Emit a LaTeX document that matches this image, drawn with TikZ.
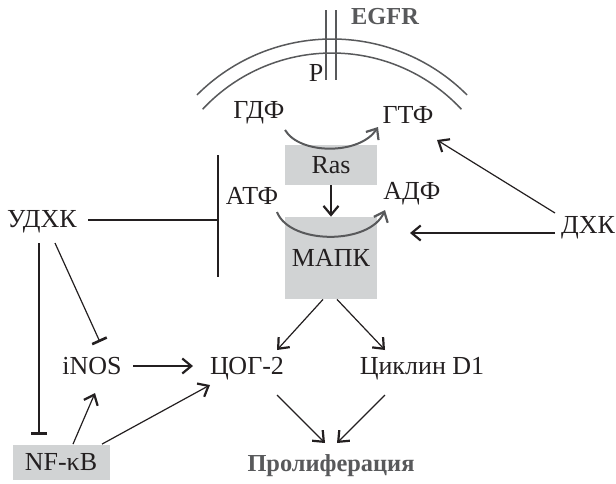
\documentclass[tikz,border=0pt]{standalone}
\usepackage{fontspec}
\setmainfont{Liberation Serif}
\usetikzlibrary{arrows.meta}
\definecolor{MKgrey}{RGB}{88,89,91}
\definecolor{MKbox}{RGB}{209,211,212}
\definecolor{MKink}{RGB}{35,31,32}

\begin{document}
\begin{tikzpicture}[
      x=0.5pt,y=-0.5pt,
      lbl/.style={inner sep=0pt,text=MKink,font=\fontsize{13}{15}\selectfont},
      head/.style={inner sep=0pt,text=MKgrey,font=\fontsize{12.2}{14}\selectfont\bfseries},
      box/.style={fill=MKbox,inner sep=0pt,text=MKink,font=\fontsize{13}{15}\selectfont},
      arr/.style={draw=MKink,line width=0.6pt,-{Straight Barb[length=4.5pt,width=7.5pt,line width=1.1pt]}},
      inh/.style={draw=MKink,line width=0.6pt,-{Bar[width=8pt,line width=1.3pt]}},
      curv/.style={draw=MKgrey,line width=1pt,-{Straight Barb[length=4.5pt,width=7.5pt,line width=1.1pt]}},
      memb/.style={draw=MKgrey,line width=0.75pt}
    ]
    \useasboundingbox (0,0) rectangle (616,483);
    % membrane and receptor
    \draw[memb] (332,230) ++(-135:191) arc[start angle=-135,end angle=-45,radius=191];
    \draw[memb] (332,230) ++(-137:177) arc[start angle=-137,end angle=-43,radius=177];
    \draw[memb] (326,10) -- (326,80);
    \draw[memb] (336,10) -- (336,80);
    \node[head] (egfr) at (385,17) {EGFR};
    \node[lbl] (p) at (316,73) {P};
    % cascade
    \node[lbl] (gdf) at (259,113) {ГДФ};
    \node[lbl] (gtf) at (408,115) {ГТФ};
    \node[box,minimum width=46pt,minimum height=20pt] (ras) at (331,165) {Ras};
    \node[lbl] (atf) at (252,196) {АТФ};
    \node[lbl] (adf) at (412,194) {АДФ};
    \node[box,minimum width=46pt,minimum height=41pt] (mapk) at (331,258) {МАПК};
    \node[lbl] (udhk) at (42,222) {УДХК};
    \node[lbl] (dxk) at (588,228) {ДХК};
    \node[lbl] (inos) at (92,366) {iNOS};
    \node[lbl] (cog) at (247,369) {ЦОГ-2};
    \node[lbl] (cyclin) at (422,369) {Циклин D1};
    \node[head] (prolif) at (331,466) {Пролиферация};
    \node[box,minimum width=48.5pt,minimum height=17.5pt] (nfkb) at (61,462) {NF-κB};
    \coordinate (bartop) at (218,155);
    \coordinate (barmid) at (218,220);
    \coordinate (barbot) at (218,277);
    \coordinate (dxkend) at (410,233);

    \draw[curv] ([xshift=13pt,yshift=-8.5pt]gdf.center) .. controls +(15,25) and +(-18,28) .. ([xshift=-15pt,yshift=-6pt]gtf.center);
    \draw[curv] ([xshift=12.5pt,yshift=-8pt]atf.center) .. controls +(13,33) and +(-15,35) .. ([xshift=-13.5pt,yshift=-8pt]adf.center);
    \draw[arr] (ras) -- (mapk);
    \draw[arr] ([xshift=-4pt]mapk.south) -- ([xshift=15pt,yshift=9.5pt]cog.center);
    \draw[arr] ([xshift=3pt]mapk.south) -- ([xshift=-18.5pt,yshift=9.5pt]cyclin.center);
    \draw[arr] ([xshift=15pt,yshift=-13pt]cog.center) -- ([xshift=-3pt,yshift=11.5pt]prolif.center);
    \draw[arr] ([xshift=-18.5pt,yshift=-13pt]cyclin.center) -- ([xshift=3pt,yshift=11.5pt]prolif.center);
    \draw[arr] ([xshift=20.5pt]inos.center) -- ([xshift=-27pt,yshift=1.5pt]cog.center);
    \draw[arr] ([xshift=6pt]nfkb.north) -- ([xshift=1.5pt,yshift=-13.5pt]inos.center);
    \draw[arr] ([xshift=20.5pt]nfkb.north) -- ([xshift=-18.5pt,yshift=-8pt]cog.center);
    \draw[inh] ([xshift=-1.5pt,yshift=-10.5pt]udhk.center) -- ([xshift=-11pt,yshift=4.75pt]nfkb.north);
    \draw[inh] ([xshift=6.5pt,yshift=-10.5pt]udhk.center) -- ([xshift=4pt,yshift=12pt]inos.center);
    \draw[draw=MKink,line width=0.6pt] ([xshift=23pt,yshift=1pt]udhk.center) -- (barmid);
    \draw[draw=MKink,line width=0.6pt] (bartop) -- (barbot);
    \draw[arr] ([xshift=-16.5pt,yshift=-2.5pt]dxk.center) -- (dxkend);
    \draw[arr] ([xshift=-16.5pt,yshift=7.5pt]dxk.center) -- ([xshift=14.5pt,yshift=-12.5pt]gtf.center);
  \end{tikzpicture}
\end{document}
